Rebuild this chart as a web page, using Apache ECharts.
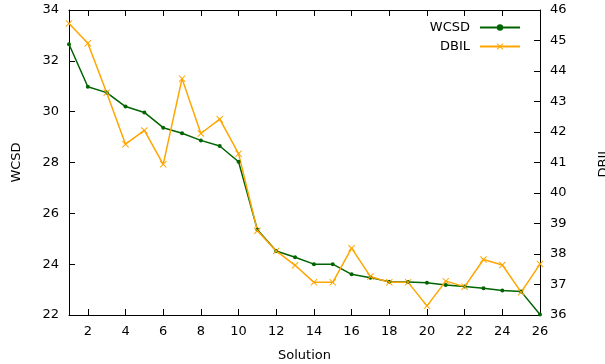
<!DOCTYPE html>
<html>
<head>
<meta charset="utf-8">
<script src="https://cdn.jsdelivr.net/npm/echarts@6/dist/echarts.min.js"></script>
<style>
  html, body { margin: 0; padding: 0; background: #fff; }
  #chart { width: 605px; height: 364px; }
</style>
</head>
<body>
<div id="chart"></div>
<script>
// values
var solutions = [1,2,3,4,5,6,7,8,9,10,11,12,13,14,15,16,17,18,19,20,21,22,23,24,25,26];
var wcsd = [32.65,30.98,30.75,30.20,29.97,29.37,29.15,28.87,28.65,28.03,25.35,24.52,24.27,24.00,24.00,23.60,23.47,23.31,23.30,23.27,23.18,23.12,23.05,22.96,22.92,22.02];
var dbil = [45.56,44.91,43.29,41.60,42.05,40.94,43.75,41.95,42.42,41.29,38.76,38.10,37.63,37.07,37.07,38.19,37.26,37.07,37.07,36.30,37.11,36.93,37.82,37.64,36.75,37.67];
var xTicks = [2,4,6,8,10,12,14,16,18,20,22,24,26];

var font = 'DejaVu Sans';
var crossPath = 'path://M0,1 L1,0 L5,4 L9,0 L10,1 L6,5 L10,9 L9,10 L5,6 L1,10 L0,9 L4,5 Z';

function pairs(ys) {
  return solutions.map(function (x, i) { return [x, ys[i]]; });
}

var axisLine = { show: true, lineStyle: { color: '#000', width: 1 } };
var tickIn = { show: true, inside: true, length: 6, lineStyle: { color: '#000' } };
var labelStyle = { color: '#000', fontFamily: font, fontSize: 13 };

var chart = echarts.init(document.getElementById('chart'));
chart.setOption({
  animation: false,
  grid: { left: 69, right: 65, top: 10, bottom: 49, containLabel: false, outerBoundsMode: 'none' },
  legend: {
    right: 79, top: 16,
    orient: 'vertical',
    align: 'right',
    itemWidth: 40, itemHeight: 8, itemGap: 6,
    textStyle: { color: '#000', fontFamily: font, fontSize: 13, padding: [0, 5, 0, 0] },
    data: ['WCSD', 'DBIL']
  },
  xAxis: [{
    type: 'value', min: 1, max: 26,
    name: 'Solution', nameLocation: 'middle', nameGap: 34,
    nameTextStyle: labelStyle,
    axisLine: axisLine,
    axisTick: Object.assign({}, tickIn, { customValues: xTicks }),
    axisLabel: Object.assign({}, labelStyle, { customValues: xTicks, margin: 10 }),
    splitLine: { show: false }
  }, {
    type: 'value', min: 1, max: 26, position: 'top',
    axisLine: axisLine,
    axisTick: Object.assign({}, tickIn, { customValues: xTicks }),
    axisLabel: { show: false },
    splitLine: { show: false }
  }],
  yAxis: [{
    type: 'value', min: 22, max: 34, interval: 2,
    name: 'WCSD', nameLocation: 'middle', nameGap: 46, nameRotate: 90,
    nameTextStyle: labelStyle,
    axisLine: axisLine, axisTick: tickIn,
    axisLabel: Object.assign({}, labelStyle, { margin: 10 }),
    splitLine: { show: false }
  }, {
    type: 'value', min: 36, max: 46, interval: 1, position: 'right',
    name: 'DBIL', nameLocation: 'middle', nameGap: 57, nameRotate: 90,
    nameTextStyle: labelStyle,
    axisLine: axisLine, axisTick: tickIn,
    axisLabel: Object.assign({}, labelStyle, { margin: 10 }),
    splitLine: { show: false }
  }],
  series: [{
    name: 'WCSD', type: 'line', xAxisIndex: 0, yAxisIndex: 0,
    data: pairs(wcsd),
    symbol: 'circle', symbolSize: 4,
    lineStyle: { color: '#006400', width: 1.5 },
    itemStyle: { color: '#006400' }
  }, {
    name: 'DBIL', type: 'line', xAxisIndex: 0, yAxisIndex: 1,
    data: pairs(dbil),
    symbol: crossPath, symbolSize: 7,
    lineStyle: { color: '#ffa500', width: 1.5 },
    itemStyle: { color: '#ffa500' }
  }]
});
</script>
</body>
</html>
